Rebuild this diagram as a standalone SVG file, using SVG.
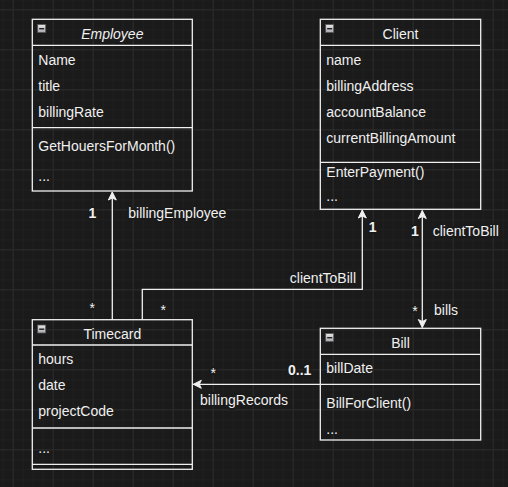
<svg xmlns="http://www.w3.org/2000/svg" width="508" height="487" viewBox="0 0 508 487">
<defs>
<pattern id="minor" width="10" height="10" patternUnits="userSpaceOnUse" x="2.7" y="9.3">
<path d="M0.5,0 V10 M0,0.5 H10" fill="none" stroke="#202020" stroke-width="1"/>
</pattern>
<pattern id="major" width="40" height="40" patternUnits="userSpaceOnUse" x="12.7" y="9.3">
<path d="M0.5,0 V40 M0,0.5 H40" fill="none" stroke="#2b2b2b" stroke-width="1"/>
</pattern>
<linearGradient id="ig" x1="0" y1="0" x2="0" y2="1">
<stop offset="0" stop-color="#e8e8e8"/>
<stop offset="1" stop-color="#a8a8b0"/>
</linearGradient>
<marker id="arr" markerWidth="10" markerHeight="10" viewBox="0 0 10 10" refX="9" refY="5" orient="auto-start-reverse" markerUnits="userSpaceOnUse">
<path d="M1,1 L9,5 L1,9 L3,5 Z" fill="#f0f0f0" stroke="#f0f0f0" stroke-width="1"/>
</marker>
<g id="icon">
<rect x="0.5" y="0.5" width="8" height="8" fill="url(#ig)" stroke="#555" stroke-width="0.8"/>
<rect x="2" y="4" width="5" height="1.4" fill="#222"/>
</g>
</defs>
<style>
text{font-family:"Liberation Sans",Arial,Helvetica,sans-serif;font-size:14px;fill:#f0f0f0}
.t{text-anchor:middle}
.i{font-style:italic}
.b{font-weight:bold}
.lb{paint-order:stroke;stroke:#1a1a1a;stroke-width:4px;stroke-linejoin:round}
.box{fill:none;stroke:#f0f0f0;stroke-width:1.3}
.ln{stroke:#f0f0f0;stroke-width:1.3}
.edge{fill:none;stroke:#f0f0f0;stroke-width:1.3}
</style>
<rect width="508" height="487" fill="#1a1a1a"/>
<rect width="508" height="487" fill="url(#minor)"/>
<rect width="508" height="487" fill="url(#major)"/>

<g id="connectors">
<path class="edge" d="M112.3,320 V192" marker-end="url(#arr)"/>
<path class="edge" d="M142.3,320 V289.3 H362.3 V210" marker-end="url(#arr)"/>
<path class="edge" d="M422.3,210.5 V327.5" marker-start="url(#arr)" marker-end="url(#arr)"/>
<path class="edge" d="M320.3,384.3 H193.3" marker-end="url(#arr)"/>
<text class="b lb t" x="92.3" y="218">1</text>
<text class="lb" x="128.3" y="218">billingEmployee</text>
<text class="lb t" x="92.3" y="313">*</text>
<text class="lb t" x="163.3" y="315">*</text>
<text class="lb" x="356" y="283" text-anchor="end">clientToBill</text>
<text class="b lb t" x="372.7" y="232">1</text>
<text class="b lb t" x="415" y="236">1</text>
<text class="lb" x="432.7" y="236">clientToBill</text>
<text class="lb t" x="415" y="316">*</text>
<text class="lb" x="434" y="315">bills</text>
<text class="lb t" x="213.3" y="378">*</text>
<text class="b lb" x="288" y="375">0..1</text>
<text class="lb" x="200" y="405">billingRecords</text>
</g>

<g id="employee">
<rect class="box" x="32.3" y="19.3" width="160" height="171.7"/>
<line class="ln" x1="32.3" y1="45.3" x2="192.3" y2="45.3"/>
<line class="ln" x1="32.3" y1="127.7" x2="192.3" y2="127.7"/>
<use href="#icon" x="37.2" y="24"/>
<text class="t i" x="112.3" y="39">Employee</text>
<text x="38.3" y="65">Name</text>
<text x="38.3" y="91">title</text>
<text x="38.3" y="117">billingRate</text>
<text x="38.3" y="151">GetHouersForMonth()</text>
<text x="38.3" y="181">...</text>
</g>

<g id="client">
<rect class="box" x="320.3" y="19.3" width="160.4" height="190"/>
<line class="ln" x1="320.3" y1="45.3" x2="480.7" y2="45.3"/>
<line class="ln" x1="320.3" y1="162.3" x2="480.7" y2="162.3"/>
<use href="#icon" x="325.2" y="24"/>
<text class="t" x="400.5" y="39">Client</text>
<text x="326.3" y="65">name</text>
<text x="326.3" y="91">billingAddress</text>
<text x="326.3" y="117">accountBalance</text>
<text x="326.3" y="143">currentBillingAmount</text>
<text x="326.3" y="177">EnterPayment()</text>
<text x="326.3" y="201">...</text>
</g>

<g id="timecard">
<rect class="box" x="32.3" y="319.7" width="160" height="149.6"/>
<line class="ln" x1="32.3" y1="345" x2="192.3" y2="345"/>
<line class="ln" x1="32.3" y1="428" x2="192.3" y2="428"/>
<line class="ln" x1="32.3" y1="464.3" x2="192.3" y2="464.3"/>
<use href="#icon" x="37.2" y="324.5"/>
<text class="t" x="112.3" y="339">Timecard</text>
<text x="38.3" y="364.3">hours</text>
<text x="38.3" y="390.3">date</text>
<text x="38.3" y="416">projectCode</text>
<text x="38.3" y="452.5">...</text>
</g>

<g id="bill">
<rect class="box" x="320.3" y="328.3" width="160.4" height="111.7"/>
<line class="ln" x1="320.3" y1="354.3" x2="480.7" y2="354.3"/>
<line class="ln" x1="320.3" y1="384.3" x2="480.7" y2="384.3"/>
<use href="#icon" x="325.2" y="333"/>
<text class="t" x="400.5" y="347.7">Bill</text>
<text x="326.3" y="373.3">billDate</text>
<text x="326.3" y="407.7">BillForClient()</text>
<text x="326.3" y="434">...</text>
</g>
</svg>
